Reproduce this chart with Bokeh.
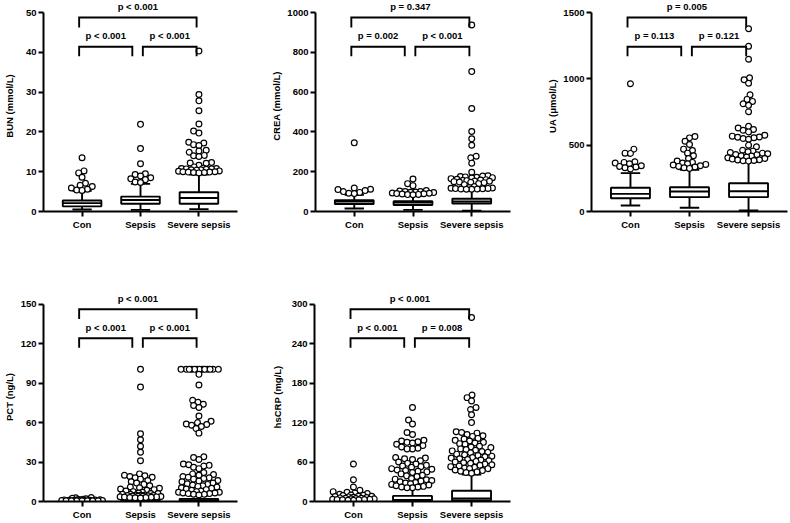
import numpy as np
from bokeh.plotting import figure
from bokeh.models import Range1d, FixedTicker
from bokeh.layouts import column, row
from bokeh.embed import file_html
from bokeh.resources import INLINE
from bokeh.core.properties import value

categories = ["Con", "Sepsis", "Severe sepsis"]

# ---------------- BUN ----------------
bun_label = "BUN (mmol/L)"
bun_ticks = [0, 10, 20, 30, 40, 50]
bun_low = [0.5, 0.4, 0.6]
bun_q1 = [1.3, 1.95, 1.95]
bun_med = [2.1, 2.9, 3.4]
bun_q3 = [2.75, 3.75, 4.85]
bun_high = [5.2, 6.95, 9.3]
bun_out_con = [13.5, 10.2, 9.7, 8.6, 7.1, 6.6, 6.3, 5.9, 5.6, 5.4, 5.3]
bun_out_sep = [21.9, 15.8, 12.0, 9.5, 9.3, 8.9, 8.5, 8.2, 8.0, 7.4, 7.3]
bun_out_sev = [40.3, 29.4, 27.8, 25.3, 22.0, 20.2, 19.7, 17.4, 17.2, 16.8, 16.6, 15.4,
               15.2, 14.9, 14.1, 14.0, 13.8, 12.3, 12.2, 12.1, 11.6, 11.2, 10.9, 10.8,
               10.8, 10.7, 10.7, 10.6, 10.5, 10.5, 10.4, 10.2, 10.1, 10.0, 10.0, 9.9,
               9.9, 9.8, 9.8, 9.7]
bun_p = ["p < 0.001", "p < 0.001", "p < 0.001"]

# ---------------- CREA ----------------
crea_label = "CREA (mmol/L)"
crea_ticks = [0, 200, 400, 600, 800, 1000]
crea_low = [15, 8, 4]
crea_q1 = [38, 33, 40]
crea_med = [50, 45, 50]
crea_q3 = [57, 52, 64]
crea_high = [84, 79, 108]
crea_out_con = [345, 118, 112, 110, 105, 100, 96, 92, 90]
crea_out_sep = [163, 140, 130, 105, 103, 100, 100, 98, 97, 95, 93, 92, 90, 89, 88, 86, 85, 84]
crea_out_sev = [937, 703, 518, 402, 365, 333, 278, 270, 243, 197, 180, 178, 176, 174, 172,
                170, 168, 165, 162, 160, 158, 157, 155, 153, 152, 150, 148, 147, 145, 140,
                135, 125, 120, 118, 117, 116, 115, 114, 113, 113, 112, 112]
crea_p = ["p = 0.347", "p = 0.002", "p < 0.001"]

# ---------------- UA ----------------
ua_label = "UA (\u03bcmol/L)"
ua_ticks = [0, 500, 1000, 1500]
ua_low = [45, 28, 8]
ua_q1 = [100, 108, 108]
ua_med = [133, 151, 153]
ua_q3 = [179, 183, 213]
ua_high = [289, 315, 372]
ua_out_con = [963, 470, 440, 438, 375, 370, 365, 360, 345, 340, 335, 330, 320]
ua_out_sep = [565, 555, 530, 505, 470, 460, 440, 420, 400, 380, 370, 365, 360, 355, 350,
              345, 340, 335, 330, 325]
ua_out_sev = [1378, 1246, 1148, 1008, 993, 967, 880, 845, 830, 812, 800, 752, 642, 630, 618,
              612, 600, 575, 568, 562, 560, 556, 550, 545, 500, 488, 462, 455, 450, 445,
              440, 435, 430, 428, 420, 418, 410, 405, 400, 395, 390, 388, 385, 382, 380]
ua_p = ["p = 0.005", "p = 0.113", "p = 0.121"]

# ---------------- PCT ----------------
pct_label = "PCT (ng/L)"
pct_ticks = [0, 30, 60, 90, 120, 150]
pct_low = [0.02, 0.05, 0.05]
pct_q1 = [0.05, 0.3, 0.3]
pct_med = [0.1, 0.8, 0.9]
pct_q3 = [0.2, 1.8, 2.0]
pct_high = [0.4, 2.5, 4.5]
pct_out_con = [3.0, 2.8, 2.5, 2.0, 1.8, 1.5, 1.4, 1.3, 1.2, 1.1, 1.0, 0.9, 0.9, 0.8, 0.8,
               0.7, 0.7, 0.6, 0.6, 0.5, 0.5, 0.5, 0.5, 0.5]
pct_out_sep = [100.5, 87, 51.5, 47, 42, 37.5, 31, 21, 20, 19.5, 19, 18.5, 18, 17, 16, 15, 14,
               13, 12, 11, 10.5, 10, 9.5, 9, 8.5, 8, 7.5, 7, 6.5, 6, 6, 5.5, 5.5, 5, 5, 4.8,
               4.6, 4.5, 4.4, 4.2, 4, 4, 3.8, 3.6, 3.5, 3.4, 3.2, 3, 3, 2.8, 2.6]
pct_out_sev = [100.5, 100.5, 100.5, 100.5, 100.5, 100.5, 100.5, 100.5, 100.5, 100.5, 100.5,
               100.5, 100.5, 96.7, 88.6, 77, 75.5, 74, 73, 71.5, 65, 61, 60, 59, 58.5, 58,
               57, 55.5, 52, 34, 33.5, 32, 28.5, 28, 27.5, 27, 26, 25, 22, 21, 20.5, 20, 19,
               18.5, 18, 17.5, 17, 16, 15.5, 15, 14, 13.5, 13, 12.5, 12, 11.5, 11, 10.5, 10,
               9.5, 9, 8.5, 8, 7.5, 7, 7, 6.5, 6.5, 6, 6, 5.5, 5.5, 5]
pct_p = ["p < 0.001", "p < 0.001", "p < 0.001"]

# ---------------- hsCRP ----------------
crp_label = "hsCRP (mg/L)"
crp_ticks = [0, 60, 120, 180, 240, 300]
crp_low = [0.1, 0.1, 0.2]
crp_q1 = [0.3, 1.0, 1.5]
crp_med = [0.6, 2.5, 4.5]
crp_q3 = [1.0, 8.5, 16.4]
crp_high = [1.8, 20, 41]
crp_out_con = [57, 33, 22, 17, 15, 14, 13, 12, 11, 10, 9.5, 9, 8, 8, 7.5, 7, 6.5, 6, 5.5, 5,
               5, 4.5, 4, 4, 3.5, 3.5, 3, 3, 2.5, 2.5, 2, 2]
crp_out_sep = [143, 124, 118, 105, 102, 93, 92, 91, 90, 89, 87, 85, 83, 81, 80, 80, 67, 66,
               65, 64, 62, 60, 58, 57, 55, 54, 53, 52, 50, 49, 48, 47, 46, 45, 44, 42, 40,
               39, 38, 35, 34, 33, 32, 31, 30, 29, 28, 27, 26, 25, 24, 23, 22, 22, 21, 21]
crp_out_sev = [280, 162, 158, 153, 143, 140, 132, 120, 106, 105, 104, 102, 100, 99, 96, 95,
               93, 92, 90, 89, 88, 87, 84, 83, 82, 80, 79, 78, 77, 76, 75, 74, 72, 71, 70,
               69, 68, 67, 66, 65, 64, 63, 62, 61, 60, 59, 58, 57, 56, 55, 54, 53, 52, 51,
               50, 50, 48, 47, 46, 45, 44, 43]
crp_p = ["p < 0.001", "p < 0.001", "p = 0.008"]

FONT = "Liberation Sans"
FSN = 9.5
FS = "%.1fpx" % FSN
X0, X1 = 0.34, 3.66
TOP_PAD = 12  # px above the highest tick, room for the brackets' labels


def swarm(vals, sy, d=5.4, W=21.0):
    """beeswarm horizontal pixel offsets for values (sy: px per data unit)"""
    vals = np.asarray(vals, dtype=float)
    order = np.argsort(vals, kind="stable")
    cands = sorted(np.arange(-W, W + 0.001, 0.5), key=lambda c: (abs(c), c))
    placed = []
    offs = np.zeros(len(vals))
    for i in order:
        py = vals[i] * sy
        near = [(ox, oy) for ox, oy in placed if abs(oy - py) < d]
        best, bestd = 0.0, -1
        for c in cands:
            md = min([np.hypot(c - ox, py - oy) for ox, oy in near], default=1e9)
            if md >= d:
                best = c
                break
            if md > bestd + 0.3:
                bestd, best = md, c
        offs[i] = best
        placed.append((best, py))
    return offs


def panel(ylabel, ticks, low, q1, med, q3, high, outs, pv, width, frame_w, data_h,
          left, right, bottom, label_gap):
    ymax = ticks[-1]
    height = data_h + TOP_PAD + bottom
    p = figure(width=width, height=height, output_backend="svg", toolbar_location=None,
               x_range=Range1d(X0, X1),
               y_range=Range1d(0, ymax * (1 + TOP_PAD / data_h)),
               min_border_left=left, min_border_right=right, min_border_top=0,
               min_border_bottom=bottom)
    p.outline_line_color = None
    p.xgrid.visible = False
    p.ygrid.visible = False
    sy = data_h / ymax
    pxu = frame_w / (X1 - X0)
    xs = [1, 2, 3]
    bw = 0.66
    cw = 0.33
    lw = 1.9
    # whiskers
    p.segment(x0=xs, x1=xs, y0=q3, y1=high, line_color="black", line_width=lw)
    p.segment(x0=xs, x1=xs, y0=q1, y1=low, line_color="black", line_width=lw)
    p.segment(x0=[x - cw / 2 for x in xs], x1=[x + cw / 2 for x in xs], y0=high, y1=high,
              line_color="black", line_width=lw)
    p.segment(x0=[x - cw / 2 for x in xs], x1=[x + cw / 2 for x in xs], y0=low, y1=low,
              line_color="black", line_width=lw)
    # boxes
    p.quad(left=[x - bw / 2 for x in xs], right=[x + bw / 2 for x in xs], bottom=q1, top=q3,
           fill_color="white", line_color="black", line_width=lw)
    p.segment(x0=[x - bw / 2 for x in xs], x1=[x + bw / 2 for x in xs], y0=med, y1=med,
              line_color="black", line_width=lw)
    # outliers
    for x, o in zip(xs, outs):
        offs = swarm(o, sy)
        p.scatter(x=[x + d / pxu for d in offs], y=o, marker="circle", size=5.8,
                  fill_color="white", line_color="black", line_width=1.2)
    # brackets
    yb_t, yt_t, yl_t = 0.975 * ymax, 0.925 * ymax, 1.031 * ymax
    yb_l, yt_l, yl_l = 0.828 * ymax, 0.78 * ymax, 0.882 * ymax
    br = [(1 - 0.05, 3 - 0.04, yb_t, yt_t), (1 - 0.05, 2 - 0.14, yb_l, yt_l),
          (2 + 0.04, 3 - 0.04, yb_l, yt_l)]
    p.multi_line(xs=[[a, a, b, b] for a, b, yb, yt in br],
                 ys=[[yt, yb, yb, yt] for a, b, yb, yt in br],
                 line_color="black", line_width=1.9, line_join="miter")
    p.text(x=[(a + b) / 2 for a, b, _, _ in br], y=[yl_t, yl_l, yl_l], text=pv,
           text_font=value(FONT), text_font_style="bold", text_font_size=FS,
           text_align="center", text_baseline="middle", text_color="black")
    # axes
    p.yaxis.bounds = (0, ymax)
    p.yaxis.ticker = FixedTicker(ticks=ticks)
    p.xaxis.ticker = FixedTicker(ticks=xs)
    p.xaxis.major_label_overrides = {1: categories[0], 2: categories[1], 3: categories[2]}
    p.yaxis.axis_label = ylabel
    tw = len(str(ymax)) * 0.556 * FSN
    for ax in (p.xaxis[0], p.yaxis[0]):
        ax.axis_line_width = 2
        ax.axis_line_color = "black"
        ax.major_tick_line_width = 2
        ax.major_tick_line_color = "black"
        ax.major_tick_out = 5
        ax.major_tick_in = 0
        ax.minor_tick_line_color = None
        ax.major_label_text_font = FONT
        ax.major_label_text_font_style = "bold"
        ax.major_label_text_font_size = FS
        ax.major_label_text_color = "black"
        ax.major_label_standoff = 2
        ax.axis_label_text_font = FONT
        ax.axis_label_text_font_style = "bold"
        ax.axis_label_text_font_size = FS
        ax.axis_label_text_color = "black"
    p.yaxis[0].axis_label_standoff = int(max(2, round(label_gap - 5 - 2 - tw - 11)))
    return p


TOP_DH, BOT_DH = 199, 201
TOP_H = 292
TOP_BOTTOM = TOP_H - (TOP_DH + TOP_PAD)
BOT_BOTTOM = 17
p1 = panel(bun_label, bun_ticks, bun_low, bun_q1, bun_med, bun_q3, bun_high,
           [bun_out_con, bun_out_sep, bun_out_sev], bun_p,
           268, 200, TOP_DH, 37, 31, TOP_BOTTOM, 37)
p2 = panel(crea_label, crea_ticks, crea_low, crea_q1, crea_med, crea_q3, crea_high,
           [crea_out_con, crea_out_sep, crea_out_sev], crea_p,
           276, 198, TOP_DH, 44, 34, TOP_BOTTOM, 40)
p3 = panel(ua_label, ua_ticks, ua_low, ua_q1, ua_med, ua_q3, ua_high,
           [ua_out_con, ua_out_sep, ua_out_sev], ua_p,
           244, 199, TOP_DH, 44, 1, TOP_BOTTOM, 40)
p4 = panel(pct_label, pct_ticks, pct_low, pct_q1, pct_med, pct_q3, pct_high,
           [pct_out_con, pct_out_sep, pct_out_sev], pct_p,
           268, 200, BOT_DH, 37, 31, BOT_BOTTOM, 37)
p5 = panel(crp_label, crp_ticks, crp_low, crp_q1, crp_med, crp_q3, crp_high,
           [crp_out_con, crp_out_sep, crp_out_sev], crp_p,
           276, 198, BOT_DH, 44, 34, BOT_BOTTOM, 40)

layout = column(row(p1, p2, p3), row(p4, p5))
open("out.html", "w").write(file_html(layout, INLINE))
